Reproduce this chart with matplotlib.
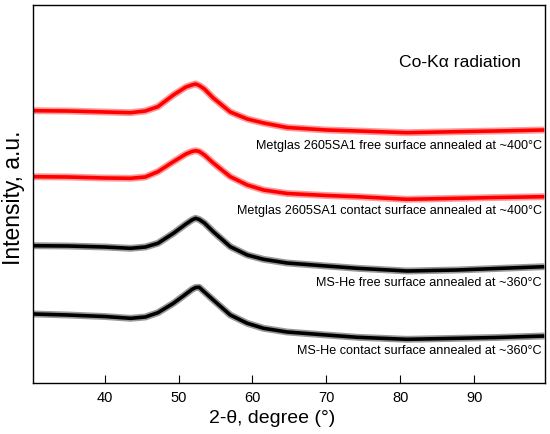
import numpy as np
import matplotlib
matplotlib.use('Agg')
import matplotlib.pyplot as plt

plt.rcParams['font.family'] = ['Liberation Sans', 'DejaVu Sans']

# 2-theta positions (deg)
two_theta = [30.4, 35, 40, 43.5, 45.5, 47.2, 49.3, 51, 51.8, 52.3, 52.8, 53.5,
             54.7, 57, 59.3, 61.5, 64.7, 70, 74.2, 80.9, 87.7, 93, 99.5]

# intensity (a.u., curves already offset as in the figure)
metglas_free = [272.3, 272, 271, 270.3, 272, 276.3, 288, 296, 298, 299, 297.5, 294,
                285, 271, 264, 260, 255.5, 253, 252, 250.3, 251.3, 252, 253]
metglas_contact = [206.3, 206, 205, 204.7, 206, 211.3, 221.3, 229, 231.5, 232.3, 231.5, 228,
                   220, 206.3, 198, 193, 189.5, 187.5, 186.3, 183.7, 184.7, 185.5, 186.3]
mshe_free = [137.3, 137, 136, 134.7, 136, 139.7, 149.7, 159, 163, 164.7, 163.5, 160,
             151.3, 136.3, 128, 123.7, 120, 117, 114.7, 112, 113, 114.5, 116.3]
mshe_contact = [69, 68, 66.5, 64.7, 66, 70.3, 79.7, 89, 93.5, 95.5, 95.7, 91,
                83, 68, 59.7, 54.7, 51, 48, 45.7, 43.7, 44.7, 45.5, 47]

labels = ['Metglas 2605SA1 free surface annealed at ~400°C',
          'Metglas 2605SA1 contact surface annealed at ~400°C',
          'MS-He free surface annealed at ~360°C',
          'MS-He contact surface annealed at ~360°C']
label_y = [237, 172, 100, 32]

fig = plt.figure(figsize=(5.5, 4.34), dpi=100)
ax = fig.add_axes([0.06, 0.1175, 0.931, 0.871])

series = [(metglas_free, 'red'), (metglas_contact, 'red'),
          (mshe_free, 'black'), (mshe_contact, 'black')]
for vals, col in series:
    # wide faint band mimics the noise, core on top
    ax.plot(two_theta, vals, color=col, lw=5, alpha=0.4, solid_capstyle='butt')
    ax.plot(two_theta, vals, color=col, lw=2.6, solid_capstyle='butt')

for txt, yy in zip(labels, label_y):
    ax.text(99.2, yy, txt, ha='right', va='center', fontsize=9.1)

ax.text(88.1, 320, 'Co-Kα radiation', ha='center', va='center', fontsize=12.6)

ax.set_xlim(30.3, 99.6)
ax.set_ylim(0, 378)
ax.set_xticks([40, 50, 60, 70, 80, 90])
ax.set_yticks([])
ax.tick_params(axis='x', direction='in', length=6, pad=6, labelsize=10.5)

ax.set_xlabel('2-θ, degree (°)', fontsize=14, va='center')
ax.xaxis.set_label_coords(0.467, -0.093)
ax.set_ylabel('Intensity, a.u.', fontsize=16.5, va='center')
ax.yaxis.set_label_coords(-0.039, 0.49)

for s in ax.spines.values():
    s.set_linewidth(1.0)

fig.savefig('out.png', dpi=100)
